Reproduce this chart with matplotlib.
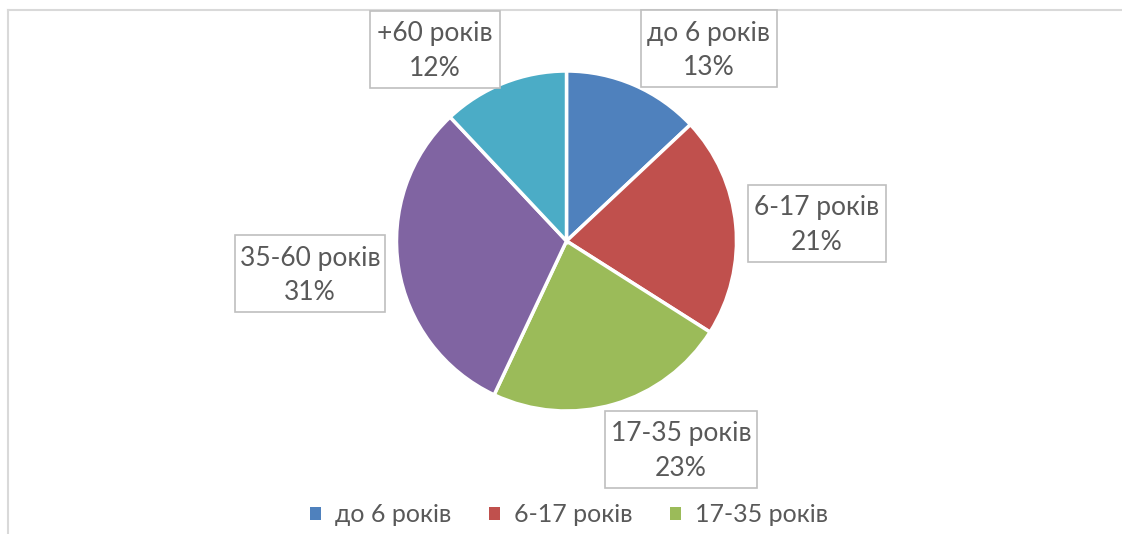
import matplotlib
matplotlib.use("Agg")
import matplotlib.pyplot as plt
from matplotlib.patches import Rectangle, Patch
from matplotlib.lines import Line2D

# data
categories = ['до 6 років', '6-17 років', '17-35 років', '35-60 років', '+60 років']
shares = [13, 21, 23, 31, 12]
colors = ['#4F81BD', '#C0504D', '#9BBB59', '#8064A2', '#4BACC6']

# label box centres / sizes in pixels (layout only)
box_pos = [(709, 485.5), (817, 311), (681, 85), (310, 260.5), (435, 485)]
box_w = [136, 138, 152, 150, 130]
box_h = 77

W, H = 1122, 534
txt_col = '#595959'
plt.rcParams['font.family'] = ['Lato', 'DejaVu Sans']

fig = plt.figure(figsize=(W / 100, H / 100), dpi=100)
ax = fig.add_axes([0, 0, 1, 1])
ax.set_xlim(0, W)
ax.set_ylim(0, H)
ax.set_aspect('equal')
ax.axis('off')

# chart frame (only top and left edges are visible)
ax.add_line(Line2D([8, W], [H - 10, H - 10], color='#D9D9D9', lw=1.5))
ax.add_line(Line2D([8, 8], [0, H - 10], color='#D9D9D9', lw=1.5))

ax.pie(shares, colors=colors, startangle=90, counterclock=False,
       center=(566.5, 293), radius=170,
       wedgeprops=dict(edgecolor='white', linewidth=2.5))
ax.set_xlim(0, W)
ax.set_ylim(0, H)

for (cx, cy), bw, lab, v in zip(box_pos, box_w, categories, shares):
    ax.add_patch(Rectangle((cx - bw / 2, cy - box_h / 2), bw, box_h,
                           facecolor='white', edgecolor='#BFBFBF', lw=1.2, zorder=3))
    ax.text(cx, cy - 2, f'{lab}\n{v}%', ha='center', va='center', fontsize=19,
            color=txt_col, linespacing=1.45, zorder=4)

handles = [Patch(facecolor=c) for c in colors[:3]]
ax.legend(handles, categories[:3], loc='center', ncol=3,
          bbox_to_anchor=(569 / W, 19 / H), frameon=False,
          fontsize=18, labelcolor=txt_col, handlelength=0.45, handleheight=0.45,
          handletextpad=0.55, columnspacing=1.5)

fig.savefig('out.png', dpi=100)
